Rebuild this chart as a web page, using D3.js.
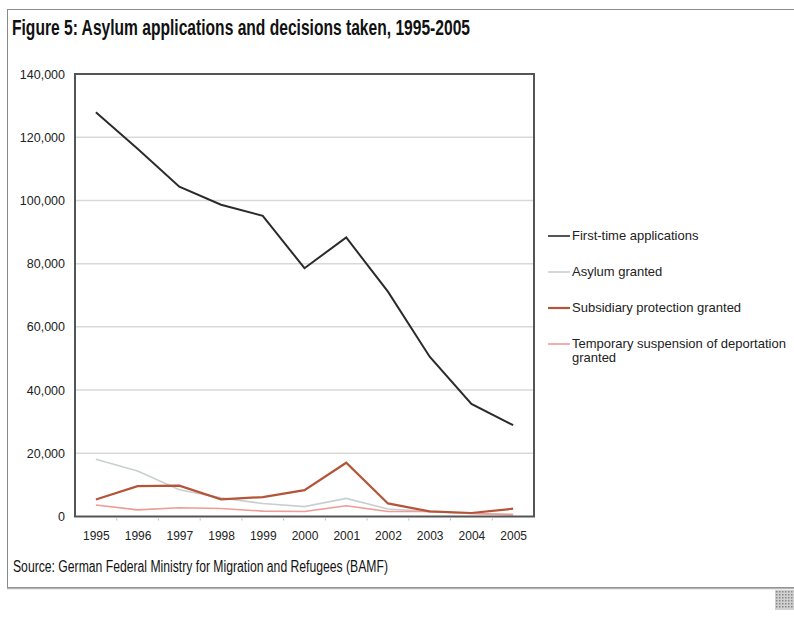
<!DOCTYPE html>
<html>
<head>
<meta charset="utf-8">
<script src="https://cdn.jsdelivr.net/npm/d3@7"></script>
<style>
html,body{margin:0;padding:0;background:#fff;}
svg{display:block;font-family:"Liberation Sans",Arial,sans-serif;}
</style>
</head>
<body>
<svg id="chart" width="794" height="618"></svg>
<script>
const years = ["1995","1996","1997","1998","1999","2000","2001","2002","2003","2004","2005"];
const firstTime = [127937,116367,104353,98644,95113,78564,88287,71127,50563,35607,28914];
const asylumGranted = [18100,14389,8443,5883,4114,3128,5716,2379,1534,960,411];
const subsidiary = [5368,9611,9779,5437,6147,8318,17003,4130,1602,1107,2464];
const temporary = [3631,2082,2768,2537,1700,1597,3383,1598,1567,964,657];
const yTicks = [0,20000,40000,60000,80000,100000,120000,140000];
const seriesNames = ["First-time applications","Asylum granted","Subsidiary protection granted","Temporary suspension of deportation granted"];
const seriesColors = ["#2b2b2b","#c9cfcf","#b4553a","#ee9c96"];
const seriesValues = [firstTime, asylumGranted, subsidiary, temporary];

const svg = d3.select("#chart");

// outer frame
svg.append("rect").attr("x",7.5).attr("y",9.5).attr("width",800).attr("height",578)
  .attr("fill","none").attr("stroke","#8a8a8a").attr("stroke-width",1);
svg.append("line").attr("x1",7).attr("x2",794).attr("y1",588.5).attr("y2",588.5)
  .attr("stroke","#b5b5b5").attr("stroke-width",1.5);

// title
svg.append("text").attr("x",12).attr("y",35)
  .attr("font-size",21.5).attr("font-weight","bold").attr("fill","#111")
  .attr("textLength",458).attr("lengthAdjust","spacingAndGlyphs")
  .text("Figure 5: Asylum applications and decisions taken, 1995-2005");

// source
svg.append("text").attr("x",13).attr("y",572)
  .attr("font-size",16).attr("fill","#111")
  .attr("textLength",375).attr("lengthAdjust","spacingAndGlyphs")
  .text("Source: German Federal Ministry for Migration and Refugees (BAMF)");

const L = 75, R = 534, T = 74, B = 516.5;
const x = d3.scalePoint().domain(years).range([L, R]).padding(0.5);
const y = d3.scaleLinear().domain([0,140000]).range([B, T]);
const step = x.step();

// gridlines
svg.append("g").selectAll("line").data(yTicks.filter(d=>d>0 && d<140000)).join("line")
  .attr("x1",L).attr("x2",R).attr("y1",d=>y(d)).attr("y2",d=>y(d))
  .attr("stroke","#d9d9d9").attr("stroke-width",1.5);

// y axis labels
const yAxis = d3.axisLeft(y).tickValues(yTicks).tickSize(0).tickPadding(10)
  .tickFormat(d3.format(","));
const gy = svg.append("g").attr("transform",`translate(${L},0)`).call(yAxis);
gy.select(".domain").remove();
gy.selectAll("text").attr("font-size",12.5).attr("fill","#222")
  .attr("font-family","Liberation Sans, Arial, sans-serif");

// x axis labels
const xAxis = d3.axisBottom(x).tickSize(0).tickPadding(15);
const gx = svg.append("g").attr("transform",`translate(0,${B})`).call(xAxis);
gx.select(".domain").remove();
gx.selectAll("text").attr("font-size",12).attr("fill","#222")
  .attr("font-family","Liberation Sans, Arial, sans-serif");

// small ticks at band boundaries
svg.append("g").selectAll("line").data(years.slice(1)).join("line")
  .attr("x1",d=>x(d)-step/2).attr("x2",d=>x(d)-step/2)
  .attr("y1",B+2).attr("y2",B+4).attr("stroke","#bbb").attr("stroke-width",1);

// lines
const line = d3.line().x((d,i)=>x(years[i])).y(d=>y(d));
const order = [1,3,0,2];
order.forEach(k=>{
  svg.append("path").datum(seriesValues[k])
    .attr("d",line).attr("fill","none")
    .attr("stroke",seriesColors[k]).attr("stroke-width", k===2?2.2:(k===0?2:1.6))
    .attr("stroke-linejoin","miter");
});

// plot frame
svg.append("rect").attr("x",L).attr("y",T).attr("width",R-L).attr("height",B-T)
  .attr("fill","none").attr("stroke","#555").attr("stroke-width",2);

// legend
const legY = [236, 272, 308, 344];
const leg = svg.append("g");
seriesNames.forEach((n,i)=>{
  leg.append("line").attr("x1",548).attr("x2",570).attr("y1",legY[i]).attr("y2",legY[i])
    .attr("stroke",seriesColors[i]).attr("stroke-width", i===2?2.2:1.6);
  const t = leg.append("text").attr("x",572).attr("y",legY[i]+4)
    .attr("font-size",13).attr("fill","#222");
  if(i===3){
    t.append("tspan").attr("x",572).text("Temporary suspension of deportation");
    t.append("tspan").attr("x",572).attr("dy",14).text("granted");
  } else t.text(n);
});

// small icon bottom-right
const icon = svg.append("g");
icon.append("rect").attr("x",775).attr("y",590).attr("width",19).attr("height",20).attr("fill","#d0d0d0");
for(let i=0;i<6;i++)for(let j=0;j<6;j++){
  icon.append("rect").attr("x",776+i*3).attr("y",591+j*3).attr("width",1.5).attr("height",1.5).attr("fill","#888");
}
</script>
</body>
</html>
